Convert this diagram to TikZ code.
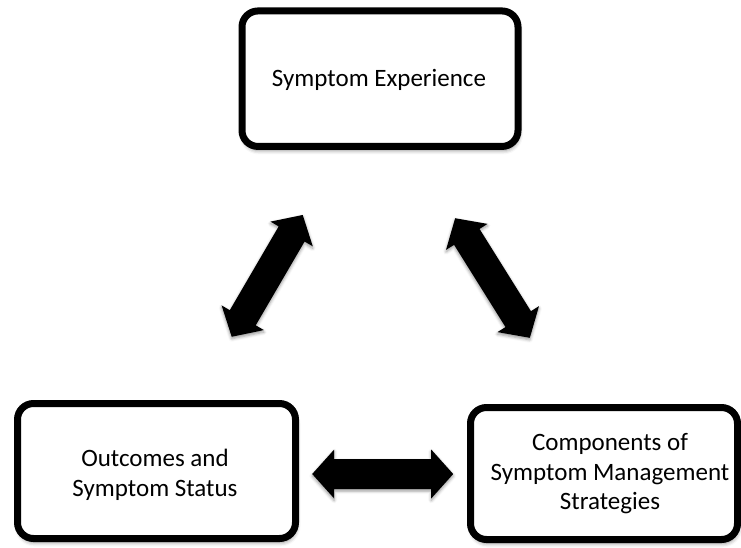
\documentclass[tikz,border=0pt]{standalone}
\usepackage{fontspec}
\setmainfont{Carlito}
\usetikzlibrary{shadows.blur}
\tikzset{
  boxstyle/.style={draw=black, line width=7pt, rounded corners=16pt, fill=white,
    blur shadow={shadow xshift=1pt, shadow yshift=-4pt, shadow blur radius=4pt, shadow opacity=45},
    inner sep=0pt},
  labelstyle/.style={align=center, font=\fontsize{25}{29.5}\selectfont, inner sep=0pt},
  pics/barrow/.style={code={
    \fill[black, blur shadow={shadow xshift=0pt, shadow yshift=-2pt, shadow blur radius=3pt, shadow opacity=40}]
      (-70.5,0) -- (-48.5,-24.5) -- (-48.5,-15) -- (48.5,-15) -- (48.5,-24.5) -- (70.5,0)
      -- (48.5,24.5) -- (48.5,15) -- (-48.5,15) -- (-48.5,24.5) -- cycle;
  }}
}
\begin{document}
\begin{tikzpicture}[x=1pt,y=-1pt]
\useasboundingbox (0,0) rectangle (741,547);
% boxes
\node[boxstyle, minimum width=276pt, minimum height=135.5pt] (exp) at (380,78.7) {};
\node[labelstyle] (explabel) at (379,80) {Symptom Experience};
\node[boxstyle, minimum width=278pt, minimum height=135pt] (out) at (156.5,471) {};
\node[labelstyle] (outlabel) at (155,475) {Outcomes and\\Symptom Status};
\node[boxstyle, minimum width=267pt, minimum height=132pt] (comp) at (604,473.5) {};
\node[labelstyle] (complabel) at (610,474) {Components of\\Symptom Management\\Strategies};
% arrow end points
\coordinate (l1) at (231.7,336.7);
\coordinate (l2) at (302.7,215);
\coordinate (r1) at (455,218);
\coordinate (r2) at (530,338);
\coordinate (h1) at (312.7,474);
\coordinate (h2) at (452.7,474);
% block arrows
\path (l1) -- pic[sloped]{barrow} (l2);
\path (r1) -- pic[sloped]{barrow} (r2);
\path (h1) -- pic[sloped]{barrow} (h2);
\end{tikzpicture}
\end{document}
